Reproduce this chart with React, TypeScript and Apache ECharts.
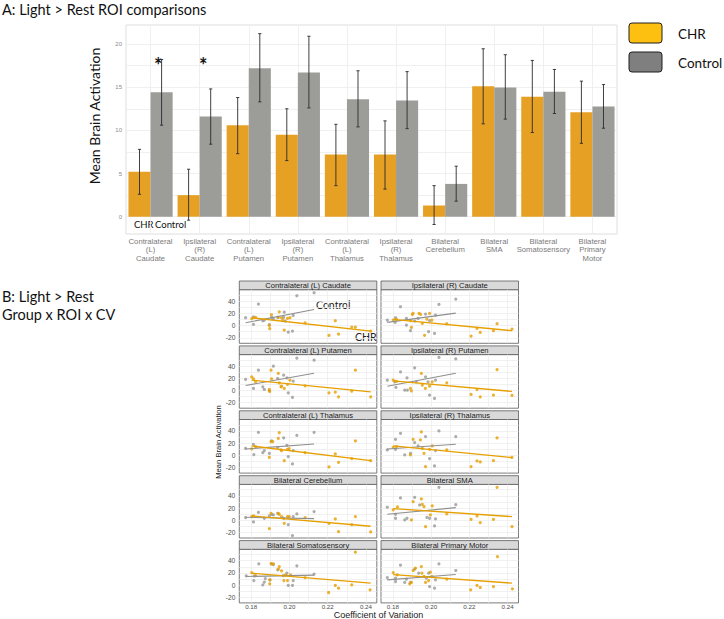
import React, { useEffect, useRef } from "react";
import * as echarts from "echarts";

// ---------- Panel A data ----------
const roiLabels = [
  "Contralateral\n(L)\nCaudate",
  "Ipsilateral\n(R)\nCaudate",
  "Contralateral\n(L)\nPutamen",
  "Ipsilateral\n(R)\nPutamen",
  "Contralateral\n(L)\nThalamus",
  "Ipsilateral\n(R)\nThalamus",
  "Bilateral\nCerebellum",
  "Bilateral\nSMA",
  "Bilateral\nSomatosensory",
  "Bilateral\nPrimary\nMotor",
];
const chrMeans = [5.2, 2.5, 10.6, 9.5, 7.2, 7.2, 1.3, 15.1, 13.9, 12.1];
const chrLow = [2.6, -0.4, 7.3, 6.5, 3.6, 3.2, -0.9, 10.75, 9.75, 8.5];
const chrHigh = [7.8, 5.5, 13.8, 12.5, 10.7, 11.1, 3.6, 19.45, 18.1, 15.7];
const ctlMeans = [14.4, 11.6, 17.2, 16.7, 13.6, 13.45, 3.8, 14.97, 14.47, 12.76];
const ctlLow = [10.6, 8.4, 13.3, 12.6, 10.4, 10.2, 1.8, 11.3, 11.95, 10.25];
const ctlHigh = [18.2, 14.8, 21.2, 20.9, 16.9, 16.8, 5.85, 18.76, 17.05, 15.3];
const barLabelTicks = [0, 5, 10, 15, 20];
const barGridTicks = [0, 2.5, 5, 7.5, 10, 12.5, 15, 17.5, 20];

// ---------- Panel B data ----------
const facetTitles = [
  "Contralateral (L) Caudate",
  "Ipsilateral (R) Caudate",
  "Contralateral (L) Putamen",
  "Ipsilateral (R) Putamen",
  "Contralateral (L) Thalamus",
  "Ipsilateral (R) Thalamus",
  "Bilateral Cerebellum",
  "Bilateral SMA",
  "Bilateral Somatosensory",
  "Bilateral Primary Motor",
];
const cvLabelTicks = [0.18, 0.2, 0.22, 0.24];
const cvGridTicks = [0.18, 0.19, 0.2, 0.21, 0.22, 0.23, 0.24];
const actLabelTicks = [-20, 0, 20, 40];
const actGridTicks = [-20, -10, 0, 10, 20, 30, 40, 50];

const chrCaudateL = [[0.1803,11.2],[0.1823,13.4],[0.1895,0.5],[0.1897,-5],[0.1906,17.7],[0.1942,13.4],[0.1947,22.6],[0.1959,12.8],[0.1965,9.0],[0.1973,-7.4],[0.199,11.7],[0.2003,12.8],[0.2082,4.6],[0.2207,-16.1],[0.224,7.9],[0.2257,-13.9],[0.2326,-2.5],[0.2345,-2.5],[0.2425,-9.0]];
const ctlCaudateL = [[0.1771,12.8],[0.1812,14.4],[0.1812,1.9],[0.1838,35.2],[0.1861,7.9],[0.1869,9.0],[0.1895,1.4],[0.1907,13.4],[0.1916,11.0],[0.1939,13.4],[0.197,13.4],[0.1973,22.0],[0.1978,7.4],[0.1994,-10.6],[0.2016,-9.0],[0.202,16.6],[0.2039,48.8],[0.2129,53.7]];
const fitChrCaudateL = [[0.1803,12.8],[0.2425,-9]];
const fitCtlCaudateL = [[0.1771,4.6],[0.2129,26.4]];

const chrCaudateR = [[0.1802,9.0],[0.1819,10.1],[0.1892,7.9],[0.1897,-3],[0.1902,18.3],[0.1906,19.9],[0.1937,19.9],[0.1945,18.3],[0.1954,3.5],[0.1966,-16],[0.1978,10.6],[0.1992,19.9],[0.2004,9],[0.2082,3],[0.2209,-17.2],[0.224,-4.6],[0.2257,-11.2],[0.2326,-8.4],[0.2345,3],[0.2423,-5.7]];
const ctlCaudateR = [[0.1771,9],[0.1814,12.8],[0.1812,5.2],[0.184,30.8],[0.1871,0.8],[0.1871,11.7],[0.1892,-8.4],[0.1914,7.4],[0.1932,11.7],[0.1971,18.8],[0.1987,-10],[0.1992,8],[0.2018,-12.8],[0.2023,17.2],[0.2041,34.6],[0.2129,43.3]];
const fitChrCaudateR = [[0.1802,10.1],[0.2423,-8.4]];
const fitCtlCaudateR = [[0.1771,5.2],[0.2129,20.4]];

const chrPutamenL = [[0.1803,22.3],[0.1812,19.1],[0.1823,14.2],[0.1895,1.6],[0.1897,-1.5],[0.1904,33.2],[0.1907,19.1],[0.1942,27.8],[0.1947,12.5],[0.1956,6],[0.1959,7],[0.1973,3.3],[0.199,9.8],[0.2003,16.9],[0.2082,7.6],[0.2207,-3.8],[0.224,-2.7],[0.2257,-10.4],[0.2326,-1.1],[0.2345,33.2],[0.2425,-10.4]];
const ctlPutamenL = [[0.1771,18],[0.1812,3.3],[0.1838,33.2],[0.1861,6],[0.1869,1.6],[0.1895,-0.5],[0.1916,39.8],[0.1939,19.6],[0.197,25],[0.1987,20.7],[0.1994,-3.8],[0.2016,-11.4],[0.202,15.3],[0.2039,52.9],[0.2129,49.6]];
const fitChrPutamenL = [[0.1803,16.9],[0.2425,-2.2]];
const fitCtlPutamenL = [[0.1771,8.2],[0.2129,28.3]];

const chrPutamenR = [[0.1802,16.9],[0.1819,14.7],[0.1892,3.3],[0.1897,-0.5],[0.1949,27.8],[0.1954,8.7],[0.197,3.3],[0.1992,7],[0.2006,14.2],[0.2082,12.5],[0.2209,-6.5],[0.224,1.6],[0.2257,-10.4],[0.2326,-7.6],[0.2345,34.3],[0.2423,-8.2]];
const ctlPutamenR = [[0.1771,16.9],[0.181,14.2],[0.1816,4.9],[0.184,30.5],[0.1862,0.5],[0.1876,0.5],[0.1874,20.7],[0.1914,37],[0.1923,14.2],[0.1971,22.3],[0.1984,14.2],[0.1992,-7.6],[0.2018,-13],[0.2023,16.9],[0.2041,54],[0.2129,51.8]];
const fitChrPutamenR = [[0.1802,15.8],[0.2423,-1.6]];
const fitCtlPutamenR = [[0.1771,7],[0.2129,28.3]];

const chrThalamusL = [[0.1803,10.5],[0.1823,14.3],[0.1895,-3.1],[0.1904,22.5],[0.1913,22.5],[0.1942,27.9],[0.1947,37.2],[0.1956,8.9],[0.1959,7.8],[0.1973,-8.6],[0.199,10],[0.1999,11.1],[0.2082,4.5],[0.2207,-18.9],[0.224,2.3],[0.2257,-11.3],[0.2326,-5.3],[0.2345,23.6],[0.2425,-8.6]];
const ctlThalamusL = [[0.1771,11.6],[0.1812,18.1],[0.1814,1.3],[0.1838,37.8],[0.1869,7.8],[0.1861,4.5],[0.1895,3.4],[0.1907,23.6],[0.1939,13.2],[0.197,28.5],[0.1987,16.5],[0.1994,-2],[0.2016,-14],[0.202,7.8],[0.2039,32.9],[0.2129,37.8]];
const fitChrThalamusL = [[0.1803,15.4],[0.2425,-8.6]];
const fitCtlThalamusL = [[0.1771,10.5],[0.2129,18.6]];

const chrThalamusR = [[0.1802,13.2],[0.1819,14.3],[0.1892,0.7],[0.1906,26.3],[0.1944,25.2],[0.1949,38.3],[0.1954,11.6],[0.1963,3.4],[0.1971,-18.4],[0.1992,9.9],[0.2006,15.4],[0.2082,8.9],[0.2209,-18.4],[0.224,-9.2],[0.2257,-10.8],[0.2326,-8.6],[0.2345,28.5],[0.2423,-3.1]];
const ctlThalamusR = [[0.1771,8.9],[0.1814,26.3],[0.1814,10],[0.184,36.1],[0.1862,0.7],[0.1892,3.4],[0.1914,20.9],[0.1932,15.4],[0.1971,30.7],[0.1992,-5.3],[0.2018,-17.3],[0.2023,7.8],[0.2041,40],[0.2129,30.7]];
const fitChrThalamusR = [[0.1802,15.4],[0.2423,-3.7]];
const fitCtlThalamusR = [[0.1771,10.5],[0.2129,18.1]];

const chrCerebellum = [[0.1803,6],[0.1812,7.1],[0.1895,-13.6],[0.1904,11.4],[0.1942,11.4],[0.1947,9.8],[0.1959,6],[0.1973,-4.9],[0.199,6],[0.1999,6],[0.2082,4.4],[0.2207,-4.9],[0.224,2.2],[0.2257,-18.5],[0.2326,-7.1],[0.2345,6],[0.2425,-19.1]];
const ctlCerebellum = [[0.1771,4.4],[0.1812,-2.7],[0.1838,13.1],[0.1869,3.3],[0.1895,7.1],[0.1907,9.8],[0.1916,8.7],[0.1939,11.4],[0.197,3.3],[0.1994,-7.1],[0.2016,-25.1],[0.202,6],[0.2039,10.4],[0.2129,14.2]];
const fitChrCerebellum = [[0.1803,7.1],[0.2425,-9.8]];
const fitCtlCerebellum = [[0.1771,4.9],[0.2129,2.7]];

const chrSMA = [[0.1802,16.9],[0.1824,21.8],[0.1897,0.5],[0.1906,30.5],[0.1949,34.9],[0.1954,26.2],[0.1963,22.3],[0.1971,-10.4],[0.1996,8.7],[0.2006,23.4],[0.2082,10.4],[0.2209,1.6],[0.224,7.1],[0.2257,-3.8],[0.2326,1.6],[0.2345,54],[0.2423,-10.4]];
const ctlSMA = [[0.1771,21.3],[0.1814,9.8],[0.1814,3.3],[0.184,36.5],[0.1862,0.5],[0.1874,3.3],[0.1914,37.6],[0.194,25],[0.1978,4.9],[0.1992,3.3],[0.2018,-9.3],[0.2023,2.2],[0.2041,54],[0.2129,25.6]];
const fitChrSMA = [[0.1802,19.1],[0.2423,6]];
const fitCtlSMA = [[0.1771,9.8],[0.2129,20.7]];

const chrSomato = [[0.1803,20.7],[0.1823,15.8],[0.1897,8.7],[0.1897,2.2],[0.1904,35.4],[0.1916,34.9],[0.1942,26.2],[0.1947,30.5],[0.1959,23.4],[0.1971,7.6],[0.198,16.9],[0.199,7.6],[0.2006,16.9],[0.2082,12.5],[0.2205,-12],[0.224,-0.5],[0.2257,-4.9],[0.2326,0.5],[0.2345,54],[0.2422,-7.6]];
const ctlSomato = [[0.1774,15.3],[0.1816,15.3],[0.1814,7.6],[0.184,34.9],[0.1861,0.5],[0.1869,4.9],[0.1874,10.9],[0.1899,8.7],[0.1907,34.9],[0.1916,33.8],[0.1939,25.1],[0.1968,15.8],[0.1987,19.6],[0.1994,-0.5],[0.2016,-0.5],[0.202,7.6],[0.2039,31.6],[0.2129,18]];
const fitChrSomato = [[0.1803,19.6],[0.2425,3.3]];
const fitCtlSomato = [[0.1774,14.2],[0.2129,16.4]];

const chrMotor = [[0.1802,20.7],[0.1823,16.9],[0.1888,2.2],[0.1897,4.4],[0.1906,24],[0.1918,27.8],[0.1949,30.5],[0.1952,19.6],[0.1963,14.2],[0.1971,4.4],[0.1987,7.6],[0.1996,21.3],[0.2004,14.2],[0.2082,9.8],[0.2207,-7.6],[0.224,-0.5],[0.2257,-3.8],[0.2326,-2.2],[0.2347,46.9],[0.2425,-6]];
const ctlMotor = [[0.1771,12.5],[0.1814,11.4],[0.1814,6],[0.184,32.7],[0.1862,4.4],[0.1871,9.8],[0.1892,4.4],[0.1914,26.2],[0.1935,19.6],[0.1975,11.4],[0.1987,19.6],[0.1992,-2.2],[0.2018,-4.9],[0.2023,8.7],[0.2041,34.9],[0.2129,24]];
const fitChrMotor = [[0.1802,17.4],[0.2423,3.3]];
const fitCtlMotor = [[0.1771,8.7],[0.2129,17.4]];

const chrPanels = [chrCaudateL, chrCaudateR, chrPutamenL, chrPutamenR, chrThalamusL, chrThalamusR, chrCerebellum, chrSMA, chrSomato, chrMotor];
const ctlPanels = [ctlCaudateL, ctlCaudateR, ctlPutamenL, ctlPutamenR, ctlThalamusL, ctlThalamusR, ctlCerebellum, ctlSMA, ctlSomato, ctlMotor];
const fitChrPanels = [fitChrCaudateL, fitChrCaudateR, fitChrPutamenL, fitChrPutamenR, fitChrThalamusL, fitChrThalamusR, fitChrCerebellum, fitChrSMA, fitChrSomato, fitChrMotor];
const fitCtlPanels = [fitCtlCaudateL, fitCtlCaudateR, fitCtlPutamenL, fitCtlPutamenR, fitCtlThalamusL, fitCtlThalamusR, fitCtlCerebellum, fitCtlSMA, fitCtlSomato, fitCtlMotor];

const ORANGE_BAR = "#E6A024";
const GREY_BAR = "#9C9C98";
const ORANGE = "#E69F00";
const GREY = "#999999";
const SANS = "'Liberation Sans', Arial, sans-serif";
const HUMAN = "Lato, 'Open Sans', sans-serif";

function buildOption() {
  const grid: any[] = [
    { left: 126, top: 25, width: 491, height: 209, show: true, borderColor: "#dedede", borderWidth: 1, backgroundColor: "#fff" },
  ];
  const xAxis: any[] = [
    {
      type: "category", gridIndex: 0, data: roiLabels,
      axisLine: { show: false }, axisTick: { show: false }, splitLine: { show: false },
      axisLabel: { interval: 0, fontSize: 7.7, lineHeight: 8.5, color: "#7a7a7a", margin: 3, fontFamily: SANS },
    },
    {
      type: "value", gridIndex: 0, min: -0.5, max: 9.5,
      axisLine: { show: false }, axisLabel: { show: false },
      axisTick: { show: false, customValues: [0, 1, 2, 3, 4, 5, 6, 7, 8, 9] },
      splitLine: { show: true, lineStyle: { color: "#ececec", width: 0.8 } },
    },
  ];
  const yAxis: any[] = [
    {
      type: "value", gridIndex: 0, min: -2, max: 22.2,
      axisLine: { show: false },
      axisTick: { show: false, customValues: barGridTicks },
      axisLabel: { customValues: barLabelTicks, fontSize: 6, color: "#8a8a8a", margin: 4, fontFamily: SANS },
      splitLine: { show: true, lineStyle: { color: "#ececec", width: 0.8 } },
    },
  ];
  const series: any[] = [
    {
      type: "bar", name: "CHR", xAxisIndex: 0, yAxisIndex: 0, data: chrMeans,
      barGap: "0%", barCategoryGap: "10%", itemStyle: { color: ORANGE_BAR }, z: 2,
    },
    {
      type: "bar", name: "Control", xAxisIndex: 0, yAxisIndex: 0, data: ctlMeans,
      barGap: "0%", barCategoryGap: "10%", itemStyle: { color: GREY_BAR }, z: 2,
    },
  ];
  const makeErr = (lows: number[], highs: number[], sign: number) => ({
    type: "custom", xAxisIndex: 0, yAxisIndex: 0, z: 5,
    data: lows.map((l, i) => [i, l, highs[i]]),
    renderItem: (params: any, api: any) => {
      const idx = api.value(0);
      const lo = api.coord([idx, api.value(1)]);
      const hi = api.coord([idx, api.value(2)]);
      const bw = api.size([1, 0])[0];
      const x = lo[0] + sign * bw * 0.225;
      const c = 1.6;
      const st = { stroke: "#2b2b2b", lineWidth: 0.9 };
      return {
        type: "group",
        children: [
          { type: "line", shape: { x1: x, y1: lo[1], x2: x, y2: hi[1] }, style: st },
          { type: "line", shape: { x1: x - c, y1: lo[1], x2: x + c, y2: lo[1] }, style: st },
          { type: "line", shape: { x1: x - c, y1: hi[1], x2: x + c, y2: hi[1] }, style: st },
        ],
      };
    },
  });
  series.push(makeErr(chrLow, chrHigh, -1));
  series.push(makeErr(ctlLow, ctlHigh, 1));

  const graphic: any[] = [];
  const colLeft = [239.3, 381];
  const colWidth = 137.5;
  const stripH = 8.7;
  const panelH = 53.6;
  for (let i = 0; i < 10; i++) {
    const r = Math.floor(i / 2);
    const c = i % 2;
    const stripTop = 281 + r * 64.9;
    const top = stripTop + stripH;
    grid.push({ left: colLeft[c], top, width: colWidth, height: panelH, show: true, borderColor: "#5a5a5a", borderWidth: 0.8, backgroundColor: "#fff" });
    const gi = i + 1;
    xAxis.push({
      type: "value", gridIndex: gi, min: 0.1738, max: 0.2457,
      axisLine: { show: false },
      axisTick: { show: false, customValues: cvGridTicks },
      axisLabel: { show: r === 4, customValues: cvLabelTicks, formatter: (v: number) => v.toFixed(2), fontSize: 6.2, color: "#4d4d4d", margin: 1, fontFamily: SANS },
      splitLine: { show: true, lineStyle: { color: "#ebebeb", width: 0.7 } },
    });
    yAxis.push({
      type: "value", gridIndex: gi, min: -29, max: 58.7,
      axisLine: { show: false },
      axisTick: { show: false, customValues: actGridTicks },
      axisLabel: { show: c === 0, customValues: actLabelTicks, fontSize: 6.6, color: "#4d4d4d", margin: 4, fontFamily: SANS },
      splitLine: { show: true, lineStyle: { color: "#ebebeb", width: 0.7 } },
    });
    const xi = i + 2;
    series.push({ type: "scatter", xAxisIndex: xi, yAxisIndex: gi, data: ctlPanels[i], symbolSize: 3.2, itemStyle: { color: GREY }, z: 3 });
    series.push({ type: "scatter", xAxisIndex: xi, yAxisIndex: gi, data: chrPanels[i], symbolSize: 3.2, itemStyle: { color: ORANGE }, z: 3 });
    series.push({ type: "line", xAxisIndex: xi, yAxisIndex: gi, data: fitCtlPanels[i], symbol: "none", lineStyle: { color: "#8f8f8f", width: 1.1 }, z: 4 });
    series.push({ type: "line", xAxisIndex: xi, yAxisIndex: gi, data: fitChrPanels[i], symbol: "none", lineStyle: { color: ORANGE, width: 1.3 }, z: 4 });

    graphic.push({
      type: "rect", shape: { x: colLeft[c], y: stripTop, width: colWidth, height: stripH },
      style: { fill: "#d9d9d9", stroke: "#5a5a5a", lineWidth: 0.8 },
    });
    graphic.push({
      type: "text", style: { text: facetTitles[i], x: colLeft[c] + colWidth / 2, y: stripTop + stripH / 2 + 0.3, align: "center", verticalAlign: "middle", font: `7.6px ${SANS}`, fill: "#1a1a1a" },
    });
  }

  // titles & annotations
  graphic.push(
    { type: "text", style: { text: "A: Light > Rest ROI comparisons", x: 2, y: 9, verticalAlign: "middle", font: `14.5px ${HUMAN}`, fill: "#111" } },
    { type: "text", rotation: Math.PI / 2, x: 94, y: 116, style: { text: "Mean Brain Activation", x: 0, y: 0, align: "center", verticalAlign: "middle", font: `14px ${HUMAN}`, fill: "#111" } },
    { type: "text", style: { text: "*", x: 158.3, y: 65, align: "center", verticalAlign: "middle", font: `bold 20px ${HUMAN}`, fill: "#111" } },
    { type: "text", style: { text: "*", x: 203.3, y: 65, align: "center", verticalAlign: "middle", font: `bold 20px ${HUMAN}`, fill: "#111" } },
    { type: "text", style: { text: "CHR", x: 134, y: 224, verticalAlign: "middle", font: `9.5px ${HUMAN}`, fill: "#111" } },
    { type: "text", style: { text: "Control", x: 155, y: 224, verticalAlign: "middle", font: `9.5px ${HUMAN}`, fill: "#111" } },
    { type: "rect", shape: { x: 629, y: 23, width: 33, height: 20, r: 3 }, style: { fill: "#FDC010", stroke: "#1e1e1e", lineWidth: 1 } },
    { type: "rect", shape: { x: 629, y: 52, width: 33, height: 20, r: 3 }, style: { fill: "#7F7F7F", stroke: "#1e1e1e", lineWidth: 1 } },
    { type: "text", style: { text: "CHR", x: 678, y: 34, verticalAlign: "middle", font: `13.5px ${HUMAN}`, fill: "#111" } },
    { type: "text", style: { text: "Control", x: 678, y: 63, verticalAlign: "middle", font: `13.5px ${HUMAN}`, fill: "#111" } },
    { type: "text", style: { text: "B: Light > Rest", x: 2, y: 296, verticalAlign: "middle", font: `14.5px ${HUMAN}`, fill: "#111" } },
    { type: "text", style: { text: "Group x ROI x CV", x: 2, y: 314, verticalAlign: "middle", font: `14.5px ${HUMAN}`, fill: "#111" } },
    { type: "text", style: { text: "Control", x: 316, y: 305, verticalAlign: "middle", font: `10.5px ${HUMAN}`, fill: "#222" } },
    { type: "text", style: { text: "CHR", x: 355, y: 337, verticalAlign: "middle", font: `10.5px ${HUMAN}`, fill: "#222" } },
    { type: "text", rotation: Math.PI / 2, x: 218, y: 442, style: { text: "Mean Brain Activation", x: 0, y: 0, align: "center", verticalAlign: "middle", font: `7.6px ${SANS}`, fill: "#1a1a1a" } },
    { type: "text", style: { text: "Coefficient of Variation", x: 378.5, y: 615.3, align: "center", verticalAlign: "middle", font: `9px ${SANS}`, fill: "#1a1a1a" } },
  );

  return {
    animation: false,
    backgroundColor: "#fff",
    grid, xAxis, yAxis, series, graphic,
  };
}

export default function App() {
  const ref = useRef<HTMLDivElement>(null);
  useEffect(() => {
    if (!ref.current) return;
    const chart = echarts.init(ref.current, undefined, { renderer: "svg" });
    chart.setOption(buildOption() as any);
    return () => chart.dispose();
  }, []);
  return (
    <div
      ref={ref}
      style={{ position: "absolute", left: 0, top: 0, width: 724, height: 619, background: "#fff" }}
    />
  );
}
